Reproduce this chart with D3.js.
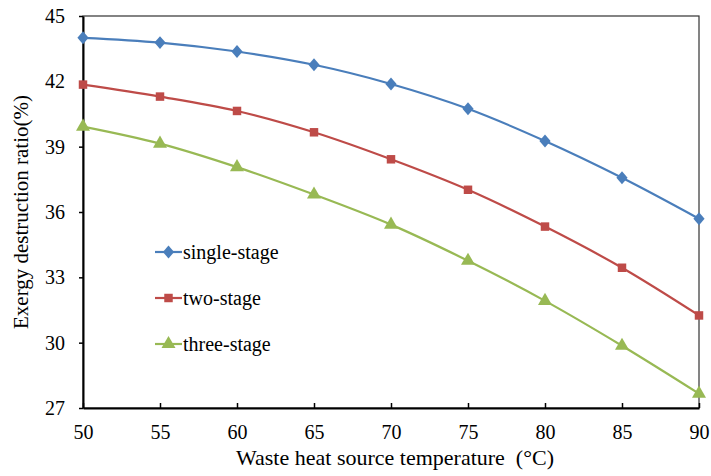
<!DOCTYPE html>
<html>
<head>
<meta charset="utf-8">
<script src="https://cdn.jsdelivr.net/npm/d3@7"></script>
<style>
  body { margin: 0; background: #fff; }
  svg text { white-space: pre; }
</style>
</head>
<body>
<svg id="chart" width="711" height="476"></svg>
<script>
// Data
const temps = [50, 55, 60, 65, 70, 75, 80, 85, 90];
const singleStage = [44.0, 43.78, 43.37, 42.76, 41.88, 40.74, 39.26, 37.57, 35.69];
const twoStage = [41.85, 41.30, 40.64, 39.66, 38.42, 37.02, 35.33, 33.44, 31.25];
const threeStage = [39.92, 39.14, 38.06, 36.80, 35.42, 33.76, 31.92, 29.86, 27.66];
const seriesNames = ['single-stage', 'two-stage', 'three-stage'];
const seriesColors = ['#4a7ebb', '#be4b48', '#98b954'];
const yTicks = [27, 30, 33, 36, 39, 42, 45];

const serif = '"Liberation Serif", "Times New Roman", "DejaVu Serif", serif';

const svg = d3.select('#chart');
const plotLeft = 83, plotRight = 699, plotTop = 16, plotBottom = 408;

const x = d3.scaleLinear().domain([50, 90]).range([plotLeft, plotRight]);
const y = d3.scaleLinear().domain([27, 45]).range([plotBottom, plotTop]);

// frame around the plot area
svg.append('rect')
    .attr('x', plotLeft).attr('y', plotTop)
    .attr('width', plotRight - plotLeft).attr('height', plotBottom - plotTop)
    .attr('fill', 'none')
    .attr('stroke', '#333')
    .attr('stroke-width', 1.2);

// x axis, ticks pointing inwards
const xAxis = svg.append('g')
    .attr('transform', 'translate(0,' + plotBottom + ')')
    .call(d3.axisBottom(x).tickValues(temps).tickSizeInner(-5).tickSizeOuter(0).tickPadding(17));
xAxis.attr('font-family', serif).attr('font-size', 20);
xAxis.select('.domain').attr('stroke', '#000').attr('stroke-width', 2);
xAxis.selectAll('.tick line').attr('stroke', '#000').attr('stroke-width', 1.5);
xAxis.selectAll('text').attr('fill', '#000');

// y axis, ticks pointing outwards
const yAxis = svg.append('g')
    .attr('transform', 'translate(' + plotLeft + ',0)')
    .call(d3.axisLeft(y).tickValues(yTicks).tickSizeInner(4).tickSizeOuter(0).tickPadding(14));
yAxis.attr('font-family', serif).attr('font-size', 20);
yAxis.select('.domain').attr('stroke', '#000').attr('stroke-width', 2);
yAxis.selectAll('.tick line').attr('stroke', '#000').attr('stroke-width', 1.5);
yAxis.selectAll('text').attr('fill', '#000');

// axis titles
svg.append('text')
    .attr('x', 395).attr('y', 465)
    .attr('text-anchor', 'middle')
    .attr('font-family', serif)
    .attr('font-size', 22)
    .text('Waste heat source temperature  (\u00B0C)');

svg.append('text')
    .attr('transform', 'translate(28,212) rotate(-90)')
    .attr('text-anchor', 'middle')
    .attr('font-family', serif)
    .attr('font-size', 21)
    .text('Exergy destruction ratio(%)');

// series lines
const allSeries = [singleStage, twoStage, threeStage];
const line = d3.line()
    .x((d, i) => x(temps[i]))
    .y(d => y(d))
    .curve(d3.curveCatmullRom.alpha(0.5));

const symbols = [
    d3.symbol().type(d3.symbolDiamond2).size(80),
    d3.symbol().type(d3.symbolSquare).size(72),
    d3.symbol().type(d3.symbolTriangle).size(85)
];

allSeries.forEach((vals, s) =>
{
    svg.append('path')
        .datum(vals)
        .attr('d', line)
        .attr('fill', 'none')
        .attr('stroke', seriesColors[s])
        .attr('stroke-width', 2.2);

    svg.append('g')
        .selectAll('path')
        .data(vals)
        .enter().append('path')
        .attr('transform', (d, i) => 'translate(' + x(temps[i]) + ',' + y(d) + ')' + (s == 0 ? ' scale(1,1.15)' : ''))
        .attr('d', symbols[s])
        .attr('fill', seriesColors[s]);
});

// legend
const legendY = [252, 298, 344];
seriesNames.forEach((name, s) =>
{
    const g = svg.append('g')
        .attr('transform', 'translate(155,' + legendY[s] + ')');
    g.append('line')
        .attr('x1', 0).attr('x2', 27)
        .attr('stroke', seriesColors[s])
        .attr('stroke-width', 2.2);
    g.append('path')
        .attr('transform', 'translate(13.5,0)' + (s == 0 ? ' scale(1,1.15)' : ''))
        .attr('d', symbols[s])
        .attr('fill', seriesColors[s]);
    g.append('text')
        .attr('x', 28).attr('dy', '0.33em')
        .attr('font-family', serif)
        .attr('font-size', 20)
        .text(name);
});
</script>
</body>
</html>
